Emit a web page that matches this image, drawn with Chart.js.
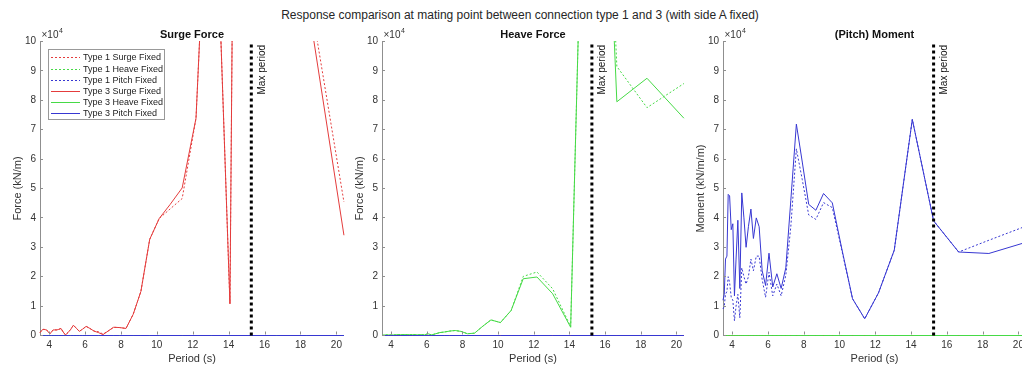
<!DOCTYPE html>
<html><head><meta charset="utf-8">
<script src="https://cdn.jsdelivr.net/npm/chart.js@4/dist/chart.umd.min.js"></script>
<style>
html,body{margin:0;padding:0;background:#fff;overflow:hidden;width:1022px;height:367px;position:relative;}
#title{position:absolute;left:0;width:1040px;top:8px;line-height:14px;text-align:center;font-size:12px;font-family:"Liberation Sans",Arial,Helvetica,sans-serif;color:#262626;white-space:nowrap;}
.panel{position:absolute;top:0;height:367px;}
</style></head><body>
<div id="title">Response comparison at mating point between connection type 1 and 3 (with side A fixed)</div>
<div class="panel" style="left:0;width:346px"><canvas id="c1"></canvas></div>
<div class="panel" style="left:342px;width:344px"><canvas id="c2"></canvas></div>
<div class="panel" style="left:683px;width:345px"><canvas id="c3"></canvas></div>
<script>
// ---- data ----
const periods = [3.49, 3.56, 3.63, 3.71, 3.78, 3.86, 3.95, 4.04, 4.13, 4.22,
  4.32, 4.43, 4.54, 4.66, 4.78, 4.91, 5.05, 5.19, 5.35, 5.51,
  5.68, 5.87, 6.06, 6.27, 6.50, 6.74, 7.00, 7.28, 7.59, 7.92,
  8.28, 8.68, 9.11, 9.60, 10.13, 10.73, 11.41, 12.18, 13.06, 14.07,
  15.26, 16.66, 18.35, 20.42];

const type1Surge = [1000, 1500, 2000, 2100, 2000, 1900, 1200, 600, 1200, 1900,
  1900, 1900, 2100, 2400, 1200, 200, 1000, 2000, 3500, 2500,
  1400, 2200, 3100, 2400, 1500, 1300, 500, 1500, 2800, 2700,
  2400, 7200, 15000, 32700, 39800, 43000, 46600, 73900, 191000, 10800,
  900000, 500000, 121800, 45400];
const type3Surge = [1000, 1500, 2000, 2100, 2000, 1900, 1200, 600, 1200, 1900,
  1900, 1900, 2100, 2400, 1200, 200, 1000, 2000, 3500, 2500,
  1400, 2200, 3100, 2400, 1500, 1000, 300, 1500, 2800, 2700,
  2400, 7200, 15000, 32700, 39800, 44500, 50200, 73900, 191000, 10800,
  900000, 500000, 115800, 34100];

const type1Heave = [0, 100, 200, 200, 200, 200, 200, 200, 200, 200,
  300, 300, 300, 300, 300, 300, 300, 300, 300, 200,
  300, 200, 600, 200, 600, 1000, 1200, 1500, 1700, 1400,
  600, 800, 3000, 5300, 4400, 8500, 20100, 21600, 15900, 3000,
  280000, 91500, 77500, 85700];
const type3Heave = [0, 100, 200, 200, 200, 200, 200, 200, 200, 200,
  300, 300, 300, 300, 300, 300, 300, 300, 300, 200,
  300, 200, 600, 200, 600, 1000, 1200, 1500, 1700, 1400,
  600, 800, 3000, 5300, 4400, 8500, 19300, 19900, 14200, 2800,
  280000, 79500, 87500, 73900];

const type1Pitch = [9000, 10000, 14000, 15000, 20000, 18000, 13000, 12000, 5000, 10000,
  14000, 6000, 23000, 20000, 17500, 20000, 26000, 22000, 27000, 27000,
  19000, 13000, 21500, 13500, 17500, 13500, 20500, 37000, 63500, 53000,
  41000, 39500, 45200, 43500, 29000, 12500, 5700, 14500, 29000, 73500,
  39000, 28400, 32400, 37200];
const type3Pitch = [12000, 14000, 26000, 27000, 48000, 47500, 36000, 38000, 13500, 26000,
  39200, 16000, 48500, 40000, 30000, 37000, 43000, 33000, 40000, 37000,
  22000, 17000, 28000, 16500, 21000, 16000, 23000, 46000, 71900, 59000,
  44600, 42600, 48300, 45100, 29500, 12500, 5700, 14500, 29000, 73500,
  39000, 28400, 27900, 31700];

const zeros = [0, 0, 0, 0, 0, 0, 0, 0, 0, 0,
  0, 0, 0, 0, 0, 0, 0, 0, 0, 0,
  0, 0, 0, 0, 0, 0, 0, 0, 0, 0,
  0, 0, 0, 0, 0, 0, 0, 0, 0, 0,
  0, 0, 0, 0];

const maxPeriod = 15.26;
const xTicks = [4, 6, 8, 10, 12, 14, 16, 18, 20];
const yTicks = [0, 10000, 20000, 30000, 40000, 50000, 60000, 70000, 80000, 90000, 100000];
const seriesNames = ['Type 1 Surge Fixed', 'Type 1 Heave Fixed', 'Type 1 Pitch Fixed',
  'Type 3 Surge Fixed', 'Type 3 Heave Fixed', 'Type 3 Pitch Fixed'];
const panelTitles = ['Surge Force', 'Heave Force', '(Pitch) Moment'];
const yLabels = ['Force (kN/m)', 'Force (kN/m)', 'Moment (kN/m/m)'];
const xLabel = 'Period (s)';

// ---- styles ----
const FONT = '"Liberation Sans", Arial, Helvetica, sans-serif';
const RED = 'rgb(228,60,60)', GREEN = 'rgb(70,218,70)', BLUE = 'rgb(55,55,210)';
const TEXT = '#333333', AXIS = '#8f8f8f';
const seriesColors = [RED, GREEN, BLUE, RED, GREEN, BLUE];
const seriesDash = [[2, 2], [2, 2], [2, 2], [], [], []];

const decor = {
  id: 'decor',
  afterDatasetsDraw(chart, args, opts) {
    const {ctx, chartArea: a, scales: {x, y}} = chart;
    ctx.save();
    // inward ticks
    ctx.strokeStyle = AXIS; ctx.lineWidth = 1;
    ctx.beginPath();
    y.ticks.forEach(t => { const py = Math.round(y.getPixelForValue(t.value) - 0.5) + 0.5; ctx.moveTo(a.left, py); ctx.lineTo(a.left + 3, py); });
    x.ticks.forEach(t => { const px = Math.round(x.getPixelForValue(t.value)) + 0.5; ctx.moveTo(px, a.bottom - 1); ctx.lineTo(px, a.bottom - 4); });
    ctx.stroke();
    // subplot title
    ctx.fillStyle = '#111'; ctx.font = 'bold 11px ' + FONT;
    ctx.textAlign = 'center'; ctx.textBaseline = 'middle';
    ctx.fillText(opts.title, (a.left + a.right) / 2, 35);
    // exponent
    ctx.fillStyle = TEXT; ctx.font = '10px ' + FONT; ctx.textAlign = 'left';
    ctx.fillText('\u00d710', a.left + 1.5, 35.5);
    const w = ctx.measureText('\u00d710').width;
    ctx.font = '7px ' + FONT;
    ctx.fillText('4', a.left + 2 + w, 31.5);
    // legend
    if (opts.legend) {
      const bx = a.left + 8, by = 49, bw = 116, bh = 70;
      ctx.fillStyle = '#fff'; ctx.fillRect(bx, by, bw, bh);
      ctx.strokeStyle = '#999'; ctx.lineWidth = 1;
      ctx.strokeRect(Math.round(bx) + 0.5, by + 0.5, bw, bh);
      ctx.font = '9px ' + FONT; ctx.textBaseline = 'middle'; ctx.textAlign = 'left';
      seriesNames.forEach((name, i) => {
        const ly = Math.round(by + 8.3 + i * 11.2) + 0.5;
        ctx.strokeStyle = seriesColors[i]; ctx.lineWidth = 1;
        ctx.setLineDash(seriesDash[i]);
        ctx.beginPath(); ctx.moveTo(bx + 3, ly); ctx.lineTo(bx + 32, ly); ctx.stroke();
        ctx.setLineDash([]);
        ctx.fillStyle = '#222';
        ctx.fillText(name, bx + 35, ly);
      });
    }
    // max period label
    const mx = x.getPixelForValue(maxPeriod);
    ctx.translate(mx + 10.5, a.top + 3.5);
    ctx.rotate(-Math.PI / 2);
    ctx.font = '10px ' + FONT; ctx.fillStyle = '#111';
    ctx.textAlign = 'right'; ctx.textBaseline = 'middle';
    ctx.fillText('Max period', 0, 0);
    ctx.restore();
  }
};

const CLIP = {left: 1, right: 1, top: 0.5, bottom: 1.5};

function makeChart(id, idx, series, legend, padRight) {
  const datasets = series.map((vals, i) => ({
    label: seriesNames[i],
    data: periods.map((p, k) => ({x: p, y: vals[k]})),
    borderColor: seriesColors[i],
    borderDash: seriesDash[i],
    borderWidth: 1,
    pointRadius: 0,
    tension: 0,
    clip: CLIP,
    order: 6 - i
  }));
  datasets.push({
    label: 'Max period',
    data: [{x: maxPeriod, y: yTicks[0]}, {x: maxPeriod, y: yTicks[yTicks.length - 1]}],
    borderColor: '#000',
    borderDash: [3, 3],
    borderWidth: 3,
    pointRadius: 0,
    clip: CLIP,
    order: -1
  });
  return new Chart(document.getElementById(id), {
    type: 'line',
    data: {datasets},
    options: {
      responsive: true,
      maintainAspectRatio: false,
      animation: false,
      events: [],
      layout: {padding: {top: 41.5, right: padRight, bottom: 0, left: 0}},
      plugins: {
        legend: {display: false},
        tooltip: {enabled: false},
        decor: {title: panelTitles[idx], legend: legend}
      },
      scales: {
        x: {
          type: 'linear',
          min: periods[0], max: periods[periods.length - 1],
          afterBuildTicks: s => { s.ticks = xTicks.map(v => ({value: v})); },
          afterFit: s => { s.height = 31.5; },
          grid: {display: false, drawTicks: false},
          border: {display: true, color: AXIS, width: 1},
          ticks: {font: {size: 10, family: FONT}, color: TEXT, padding: 4, maxRotation: 0, autoSkip: false},
          title: {display: true, text: xLabel, font: {size: 11, family: FONT}, color: TEXT, padding: {top: 0, bottom: 1}}
        },
        y: {
          type: 'linear',
          min: yTicks[0], max: yTicks[yTicks.length - 1],
          afterBuildTicks: s => { s.ticks = yTicks.map(v => ({value: v})); },
          afterFit: s => { s.width = 40; },
          grid: {display: false, drawTicks: false},
          border: {display: true, color: AXIS, width: 1},
          ticks: {font: {size: 10, family: FONT}, color: TEXT, padding: 4, callback: v => String(v / 10000)},
          title: {display: true, text: yLabels[idx], font: {size: 11, family: FONT}, color: TEXT, padding: {top: 11.5, bottom: 0}}
        }
      }
    },
    plugins: [decor]
  });
}

makeChart('c1', 0, [type1Surge, zeros, zeros, type3Surge, zeros, zeros], true, 1.5);
makeChart('c2', 1, [zeros, type1Heave, zeros, zeros, type3Heave, zeros], false, 1);
makeChart('c3', 2, [zeros, zeros, type1Pitch, zeros, zeros, type3Pitch], false, 1);
</script>
</body></html>
